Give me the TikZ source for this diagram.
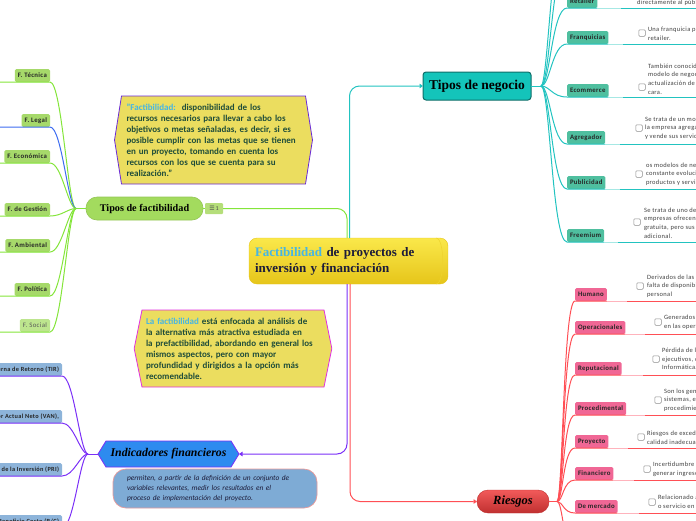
\documentclass[tikz,border=0pt]{standalone}
\usepackage{fontspec}
\setmainfont{Carlito}
\newfontfamily\titlefont{Liberation Serif}
\newfontfamily\symbolfont{DejaVu Sans}
\newfontfamily\labelfont{Carlito}[LetterSpace=5]
\usepackage{tikz}
\usetikzlibrary{arrows.meta}
\usetikzlibrary{shapes.symbols}
\usetikzlibrary{calc}
\definecolor{limeline}{HTML}{84E53A}
\definecolor{legalblue}{HTML}{3D6CF0}
\definecolor{tealline}{HTML}{22C3C0}
\definecolor{teallight}{HTML}{A6E8E4}
\definecolor{redline}{HTML}{FF4F55}
\definecolor{redlight}{HTML}{FFB3BC}
\definecolor{purpleline}{HTML}{7B2FF7}
\definecolor{greenbox}{HTML}{A6D96A}
\definecolor{greenboxlight}{HTML}{BDE58E}
\definecolor{tealbox}{HTML}{4FBF9F}
\definecolor{pinkbox}{HTML}{F06795}
\definecolor{bluebox}{HTML}{8DB4DA}
\definecolor{noteyellow}{HTML}{EBDD5F}
\definecolor{notetext}{HTML}{1F4D3A}
\definecolor{highlight}{HTML}{45B5E5}
\definecolor{yellowtop}{HTML}{FAE84A}
\definecolor{yellowbot}{HTML}{E6C51A}
\definecolor{titlenavy}{HTML}{1C1C3A}
\definecolor{negfill}{HTML}{14C4BA}
\definecolor{negdraw}{HTML}{0E6E69}
\definecolor{factfill}{HTML}{A3DB5E}
\definecolor{badgefill}{HTML}{B5DE7A}
\definecolor{indfill}{HTML}{2E8BEF}
\definecolor{redtop}{HTML}{F25A5A}
\definecolor{redbot}{HTML}{C03030}
\definecolor{violetline}{HTML}{6A2AD8}
\definecolor{magentaline}{HTML}{E030E0}
\definecolor{indnotefill}{HTML}{7EABD5}
\definecolor{indnotedraw}{HTML}{E79A9A}

\tikzset{
  every node/.style={inner sep=0pt,outer sep=0pt},
  lnG/.style={draw=limeline,line width=1pt},
  lnB/.style={draw=legalblue,line width=1pt},
  lnT/.style={draw=tealline,line width=1pt},
  lnTl/.style={draw=teallight,line width=1pt},
  lnR/.style={draw=redline,line width=1pt},
  lnRl/.style={draw=redlight,line width=1pt},
  lnP/.style={draw=purpleline,line width=1pt},
  tip/.style={-{Triangle[length=3.5pt,width=4.5pt]}},
  childbox/.style={rounded corners=1.5pt,minimum height=13pt,inner xsep=3pt,
    font=\labelfont\bfseries\fontsize{6.8}{8}\selectfont,text=black!85},
  gbox/.style={childbox,fill=greenbox,anchor=north east},
  tbox/.style={childbox,fill=tealbox,anchor=north west},
  pbox/.style={childbox,fill=pinkbox,anchor=north west},
  bbox/.style={childbox,fill=bluebox,anchor=north east,font=\labelfont\bfseries\fontsize{6.3}{8}\selectfont},
  chk/.style={draw=black!45,fill=white,rounded corners=1pt,minimum size=6.5pt,line width=0.5pt},
  smalltxt/.style={anchor=west,align=left,text=black!75,font=\labelfont\fontsize{6.5}{8.6}\selectfont},
  hexnote/.style={signal,signal to=east and west,fill=noteyellow,line width=0.8pt,
    align=left,text=notetext,font=\bfseries\fontsize{9}{11}\selectfont,inner xsep=5pt}
}

\begin{document}
\begin{tikzpicture}[x=1pt,y=-1pt]
  \useasboundingbox (0,0) rectangle (696,520);
  \clip (0,0) rectangle (696,520);

  % central topic
  \node[rounded corners=8pt,top color=yellowtop,bottom color=yellowbot,draw=yellowbot,
        minimum width=199pt,minimum height=46pt,inner xsep=6pt,text width=187pt,align=left,
        font=\titlefont\bfseries\fontsize{13}{16}\selectfont,text=titlenavy]
        (cen) at (348.5,261) {\textcolor{highlight}{Factibilidad} de proyectos de\\inversión y financiación};
  \draw[yellowbot!60!yellowtop,line width=0.5pt] ([xshift=-12pt]cen.north east)
        .. controls +(9,0) and +(9,0) .. ([xshift=-12pt]cen.south east);

  % main topics
  \node[rounded corners=3pt,fill=negfill,draw=negdraw,line width=1pt,
        minimum width=108pt,minimum height=28pt,font=\titlefont\bfseries\fontsize{13.5}{14}\selectfont]
        (neg) at (477,86) {Tipos de negocio};
  \node[rounded corners=11pt,fill=factfill,draw=factfill!90!black,line width=0.6pt,
        minimum width=117pt,minimum height=23pt,font=\titlefont\bfseries\fontsize{10.2}{11}\selectfont]
        (tf) at (144.5,208.5) {Tipos de factibilidad};
  \node[fill=badgefill,rounded corners=1pt,minimum width=18pt,minimum height=11pt,
        font=\fontsize{6}{6}\selectfont,text=black!70]
        (badge) at (214,208.5) {{\symbolfont ☰}\,1};
  \node[signal,signal to=east and west,signal pointer angle=117,fill=indfill,draw=purpleline,
        line width=0.8pt,minimum width=141pt,minimum height=26pt,
        font=\titlefont\bfseries\itshape\fontsize{11.8}{12}\selectfont]
        (ind) at (168.5,454) {Indicadores financieros};
  \node[rounded corners=11pt,top color=redtop,bottom color=redbot,draw=redbot,
        minimum width=72pt,minimum height=23pt,font=\titlefont\bfseries\itshape\fontsize{12.5}{12}\selectfont]
        (ries) at (513,501.5) {Riesgos};

  \draw[lnG,rounded corners=10pt] ([xshift=-1.5pt]cen.north) |- (badge.east);
  \draw[lnG] (badge.west) -- (tf.east);
  \draw[lnT,rounded corners=10pt,tip] ([xshift=1pt]cen.north) |- (neg.west);
  \draw[lnP,rounded corners=10pt,tip] ([xshift=-1.5pt]cen.south) |- (ind.east);
  \draw[lnR,rounded corners=10pt,tip] ([xshift=1.5pt]cen.south) |- (ries.west);

  % notes
  \node[hexnote,draw=violetline,signal pointer angle=162,minimum height=88pt,text width=174pt]
        (defn) at (213.5,140) {\textcolor{highlight}{"Factibilidad:}\ \ disponibilidad de los\\
        recursos necesarios para llevar a cabo los\\objetivos o metas señaladas, es decir, si es\\
        posible cumplir con las metas que se tienen\\en un proyecto, tomando en cuenta los\\
        recursos con los que se cuenta para su\\realización."};
  \node[hexnote,draw=magentaline,signal pointer angle=157,minimum height=77pt,text width=174pt,inner xsep=4pt]
        (alc) at (233,348.5) {\textcolor{highlight}{La factibilidad} está enfocada al análisis de\\
        la alternativa más atractiva estudiada en\\la prefactibilidad, abordando en general los\\
        mismos aspectos, pero con mayor\\profundidad y dirigidos a la opción más\\recomendable.};
  \node[rounded corners=13pt,fill=indnotefill,draw=indnotedraw,line width=0.7pt,
        minimum height=39pt,text width=176pt,inner xsep=14pt,align=left,text=titlenavy,
        font=\itshape\fontsize{7.4}{10}\selectfont]
        (indn) at (215,488.5) {permiten, a partir de la definición de un conjunto de\\
        variables relevantes, medir los resultados en el\\proceso de implementación del proyecto.};

  % tipos de factibilidad
  \node[gbox] (ftec) at (50,69) {F. Técnica};
  \node[gbox] (fleg) at (50,114) {F. Legal};
  \node[gbox] (feco) at (50,150) {F. Económica};
  \node[gbox] (fges) at (50,203) {F. de Gestión};
  \node[gbox] (famb) at (50,239) {F. Ambiental};
  \node[gbox] (fpol) at (50,283) {F. Política};
  \node[gbox,fill=greenboxlight,font=\labelfont\fontsize{6.8}{8}\selectfont,text=black!65] (fsoc) at (50,319) {F. Social};
  \coordinate (groot) at ($(tf.west)+(-10,0)$);
  \draw[lnG] (tf.west) -- (groot);
  \draw[lnG] (groot) .. controls +(-8,0) and +(12,0) .. (ftec.south east) -- +(-60,0);
  \draw[lnB] (groot) .. controls +(-8,0) and +(12,0) .. (fleg.south east) -- +(-60,0);
  \draw[lnG] (groot) .. controls +(-8,0) and +(12,0) .. (feco.south east) -- +(-60,0);
  \draw[lnG] (groot) .. controls +(-8,0) and +(12,0) .. (fges.south east) -- +(-60,0);
  \draw[lnG] (groot) .. controls +(-8,0) and +(12,0) .. (famb.south east) -- +(-60,0);
  \draw[lnG] (groot) .. controls +(-8,0) and +(12,0) .. (fpol.south east) -- +(-60,0);
  \draw[lnG] (groot) .. controls +(-8,0) and +(12,0) .. (fsoc.south east) -- +(-60,0);

  % indicadores financieros
  \node[bbox] (tir) at (62,363) {Tasa Interna de Retorno (TIR)};
  \node[bbox] (van) at (62,410) {Valor Actual Neto (VAN),};
  \node[bbox] (pri) at (62,463) {Periodo de Recuperación de la Inversión (PRI)};
  \node[bbox] (rbc) at (62,515) {Relación Beneficio Costo (B/C)};
  \coordinate (iroot) at ($(ind.west)+(-10,0)$);
  \draw[lnP] (ind.west) -- (iroot);
  \draw[lnP] (iroot) .. controls +(-8,0) and +(12,0) .. (tir.south east) -- +(-80,0);
  \draw[lnP] (iroot) .. controls +(-8,0) and +(12,0) .. (van.south east) -- +(-80,0);
  \draw[lnP] (iroot) .. controls +(-8,0) and +(12,0) .. (pri.south east) -- +(-80,0);
  \draw[lnP] (iroot) .. controls +(-8,0) and +(12,0) .. (rbc.south east) -- +(-80,0);

  % tipos de negocio
  \node[tbox] (ret) at (567,-5) {Retailer};
  \node[tbox] (fra) at (567,31) {Franquicias};
  \node[tbox] (eco) at (567,84) {Ecommerce};
  \node[tbox] (agr) at (567,131) {Agregador};
  \node[tbox] (pub) at (567,176) {Publicidad};
  \node[tbox] (fre) at (567,229) {Freemium};
  \node[smalltxt] (rettx) at (637,3) {directamente al público};
  \node[chk] (fracb) at (642,33) {};
  \node[smalltxt] (fratx) at (648,34) {Una franquicia puede\\retailer.};
  \node[chk] (ecocb) at (642,87) {};
  \node[smalltxt] (ecotx) at (648,79) {También conocido\\modelo de negocio\\actualización de la\\cara.};
  \node[chk] (agrcb) at (639,128) {};
  \node[smalltxt] (agrtx) at (645,128) {Se trata de un modelo\\la empresa agrega\\y vende sus servicios};
  \node[chk] (pubcb) at (639,174) {};
  \node[smalltxt] (pubtx) at (646,174) {os modelos de negocio\\constante evolución\\productos y servicios};
  \node[chk] (frecb) at (637,222) {};
  \node[smalltxt] (fretx) at (644,223) {Se trata de uno de los\\empresas ofrecen\\gratuita, pero sus servicios\\adicional.};
  \coordinate (troot) at ($(neg.east)+(10,0)$);
  \coordinate (tup1) at (567,-40);
  \coordinate (tup2) at (567,-80);
  \draw[lnT] (neg.east) -- (troot);
  \draw[lnT] (troot) .. controls +(9,0) and +(-15,0) .. (tup1);
  \draw[lnT] (troot) .. controls +(7,0) and +(-15,0) .. (tup2);
  \draw[lnT] (troot) .. controls +(9,0) and +(-15,0) .. (ret.south west) -- (ret.south east);
  \draw[lnTl] (ret.south east) -- ($(rettx.west |- ret.south)+(-16,0)$);
  \draw[lnT] ($(rettx.west |- ret.south)+(-16,0)$) -- +(80,0);
  \draw[lnT] (troot) .. controls +(9,0) and +(-15,0) .. (fra.south west) -- (fra.south east);
  \draw[lnTl] (fra.south east) -- ($(fracb.west |- fra.south)+(-16,0)$);
  \draw[lnT] ($(fracb.west |- fra.south)+(-16,0)$) -- +(80,0);
  \draw[lnT] (troot) .. controls +(9,0) and +(-15,0) .. (eco.south west) -- (eco.south east);
  \draw[lnTl] (eco.south east) -- ($(ecocb.west |- eco.south)+(-16,0)$);
  \draw[lnT] ($(ecocb.west |- eco.south)+(-16,0)$) -- +(80,0);
  \draw[lnT] (troot) .. controls +(9,0) and +(-15,0) .. (agr.south west) -- (agr.south east);
  \draw[lnTl] (agr.south east) -- ($(agrcb.west |- agr.south)+(-16,0)$);
  \draw[lnT] ($(agrcb.west |- agr.south)+(-16,0)$) -- +(80,0);
  \draw[lnT] (troot) .. controls +(9,0) and +(-15,0) .. (pub.south west) -- (pub.south east);
  \draw[lnTl] (pub.south east) -- ($(pubcb.west |- pub.south)+(-16,0)$);
  \draw[lnT] ($(pubcb.west |- pub.south)+(-16,0)$) -- +(80,0);
  \draw[lnT] (troot) .. controls +(9,0) and +(-15,0) .. (fre.south west) -- (fre.south east);
  \draw[lnTl] (fre.south east) -- ($(frecb.west |- fre.south)+(-16,0)$);
  \draw[lnT] ($(frecb.west |- fre.south)+(-16,0)$) -- +(80,0);

  % riesgos
  \node[pbox] (hum) at (575,288) {Humano};
  \node[pbox] (ope) at (575,321) {Operacionales};
  \node[pbox] (rep) at (575,362) {Reputacional};
  \node[pbox] (pro) at (575,402) {Procedimental};
  \node[pbox] (pry) at (575,435) {Proyecto};
  \node[pbox] (fin) at (575,467) {Financiero};
  \node[pbox] (mer) at (575,500) {De mercado};
  \node[chk] (humcb) at (640,286) {};
  \node[smalltxt] (humtx) at (647,286) {Derivados de las personas\\falta de disponibilidad\\personal};
  \node[chk] (opecb) at (658,322) {};
  \node[smalltxt] (opetx) at (664,322) {Generados por\\en las operaciones};
  \node[chk] (repcb) at (656,359) {};
  \node[smalltxt] (reptx) at (662,359) {Pérdida de la\\ejecutivos, de\\Informática.};
  \node[chk] (procb) at (658,400) {};
  \node[smalltxt] (protx) at (664,400) {Son los generados\\sistemas, en\\procedimientos};
  \node[chk] (prycb) at (641,437) {};
  \node[smalltxt] (prytx) at (647,437.5) {Riesgos de exceder\\calidad inadecuada};
  \node[chk] (fincb) at (647,469) {};
  \node[smalltxt] (fintx) at (653,469.5) {Incertidumbre al\\generar ingresos};
  \node[chk] (mercb) at (652,502) {};
  \node[smalltxt] (mertx) at (658,501.5) {Relacionado al\\o servicio en el};
  \coordinate (rroot) at ($(ries.east)+(8,0)$);
  \coordinate (rdown) at (575,550);
  \draw[lnR] (ries.east) -- (rroot);
  \draw[lnR] (rroot) .. controls +(6,0) and +(-12,0) .. (rdown);
  \draw[lnR] (rroot) .. controls +(6,0) and +(-12,0) .. (hum.south west) -- (hum.south east);
  \draw[lnRl] (hum.south east) -- ($(humcb.west |- hum.south)+(-10,0)$);
  \draw[lnR] ($(humcb.west |- hum.south)+(-10,0)$) -- +(80,0);
  \draw[lnR] (rroot) .. controls +(6,0) and +(-12,0) .. (ope.south west) -- (ope.south east);
  \draw[lnRl] (ope.south east) -- ($(opecb.west |- ope.south)+(-10,0)$);
  \draw[lnR] ($(opecb.west |- ope.south)+(-10,0)$) -- +(80,0);
  \draw[lnR] (rroot) .. controls +(6,0) and +(-12,0) .. (rep.south west) -- (rep.south east);
  \draw[lnRl] (rep.south east) -- ($(repcb.west |- rep.south)+(-10,0)$);
  \draw[lnR] ($(repcb.west |- rep.south)+(-10,0)$) -- +(80,0);
  \draw[lnR] (rroot) .. controls +(6,0) and +(-12,0) .. (pro.south west) -- (pro.south east);
  \draw[lnRl] (pro.south east) -- ($(procb.west |- pro.south)+(-10,0)$);
  \draw[lnR] ($(procb.west |- pro.south)+(-10,0)$) -- +(80,0);
  \draw[lnR] (rroot) .. controls +(6,0) and +(-12,0) .. (pry.south west) -- (pry.south east);
  \draw[lnRl] (pry.south east) -- ($(prycb.west |- pry.south)+(-10,0)$);
  \draw[lnR] ($(prycb.west |- pry.south)+(-10,0)$) -- +(80,0);
  \draw[lnR] (rroot) .. controls +(6,0) and +(-12,0) .. (fin.south west) -- (fin.south east);
  \draw[lnRl] (fin.south east) -- ($(fincb.west |- fin.south)+(-10,0)$);
  \draw[lnR] ($(fincb.west |- fin.south)+(-10,0)$) -- +(80,0);
  \draw[lnR] (rroot) .. controls +(6,0) and +(-12,0) .. (mer.south west) -- (mer.south east);
  \draw[lnRl] (mer.south east) -- ($(mercb.west |- mer.south)+(-10,0)$);
  \draw[lnR] ($(mercb.west |- mer.south)+(-10,0)$) -- +(80,0);
\end{tikzpicture}
\end{document}
